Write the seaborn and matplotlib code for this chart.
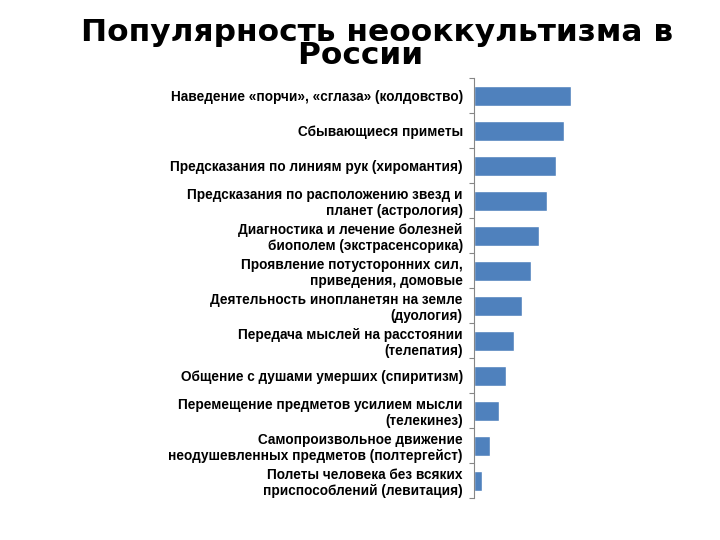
import matplotlib
matplotlib.use('Agg')
import matplotlib.pyplot as plt
import seaborn as sns
import numpy as np
import pandas as pd

categories = [
    'Наведение «порчи», «сглаза» (колдовство)',
    'Сбывающиеся приметы',
    'Предсказания по линиям рук (хиромантия)',
    'Предсказания по расположению звезд и\nпланет (астрология)',
    'Диагностика и лечение болезней\nбиополем (экстрасенсорика)',
    'Проявление потусторонних сил,\nприведения, домовые',
    'Деятельность инопланетян на земле\n(дуология)',
    'Передача мыслей на расстоянии\n(телепатия)',
    'Общение с душами умерших (спиритизм)',
    'Перемещение предметов усилием мысли\n(телекинез)',
    'Самопроизвольное движение\nнеодушевленных предметов (полтергейст)',
    'Полеты человека без всяких\nприспособлений (левитация)',
]
values = [97, 90, 82, 73, 65, 57, 48, 40, 32, 25, 16, 8]

df = pd.DataFrame({'category': categories, 'value': values})

sns.set_style('white')
plt.rcParams['font.family'] = ['Liberation Sans', 'DejaVu Sans']

fig = plt.figure(figsize=(7.2, 5.4), dpi=100)
ax = fig.add_axes([0.6583, 0.0772, 0.2778, 0.7778])

sns.barplot(data=df, x='value', y='category', orient='h', color='#4F81BD',
            saturation=1, width=0.57, ax=ax)

ax.set_xlim(0, 200)
ax.set_ylim(len(categories) - 0.5, -0.5)
ax.set_xlabel('')
ax.set_ylabel('')
ax.set_xticks([])
for s in ['top', 'right', 'bottom']:
    ax.spines[s].set_visible(False)
ax.spines['left'].set_color('#868686')
ax.spines['left'].set_linewidth(0.8)

ax.set_yticks(np.arange(len(categories)))
ax.set_yticklabels(categories, fontsize=9.8, fontweight='bold', linespacing=1.12)
ax.tick_params(axis='y', which='major', left=True, length=0, pad=8, labelcolor='black')
ax.set_yticks(np.arange(len(categories) + 1) - 0.5, minor=True)
ax.tick_params(axis='y', which='minor', left=True, length=3.5, color='#868686', width=0.8)

# title: one text, tight line spacing; trailing spaces nudge the 2nd line left
fig.text(0.5236, 0.8824, 'Популярность неооккультизма в\nРоссии   ',
         ha='center', va='baseline', fontsize=22.5, fontweight='bold',
         color='black', family='DejaVu Sans', linespacing=0.72)

fig.savefig('out.png', dpi=100)
